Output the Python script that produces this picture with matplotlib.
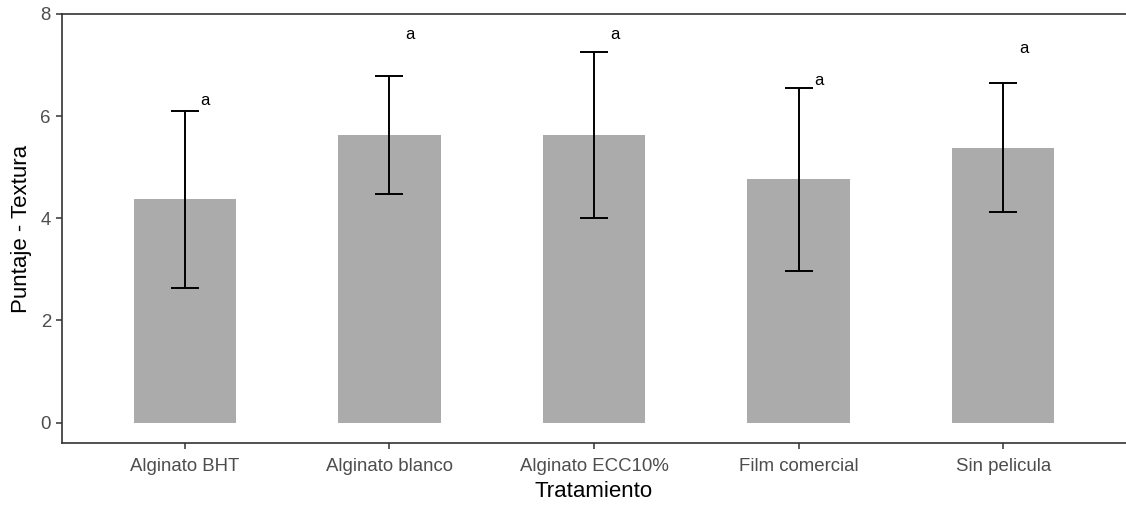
import matplotlib
matplotlib.use("Agg")
import matplotlib.pyplot as plt
import numpy as np

plt.rcParams['font.family'] = ['Liberation Sans', 'DejaVu Sans']

# mean texture score per treatment, with standard deviation
tratamientos = ["Alginato BHT", "Alginato blanco", "Alginato ECC10%", "Film comercial", "Sin pelicula"]
media = [4.37, 5.63, 5.63, 4.76, 5.38]
desv = [1.74, 1.16, 1.62, 1.80, 1.26]
letras = ["a", "a", "a", "a", "a"]
letras_y = [6.31, 7.59, 7.59, 6.69, 7.33]

fig = plt.figure(figsize=(11.26, 5.05), dpi=100)
ax = fig.add_axes([62/1126, 62/505, 1 - 62/1126, (443-14)/505])

x = np.arange(1, len(tratamientos) + 1)
ax.bar(x, media, width=0.5, color="#ABABAB", zorder=1)
ax.errorbar(x, media, yerr=desv, fmt="none", ecolor="black", elinewidth=1.4,
            capsize=10, capthick=1.4, zorder=2)
for xi, l, ly in zip(x, letras, letras_y):
    ax.text(xi + 0.1, ly, l, ha="center", va="center", fontsize=12, color="black")

ax.set_xlim(0.4, 5.6)
ax.set_ylim(-0.4, 8.0)
ax.set_yticks([0, 2, 4, 6, 8])
ax.set_xticks(x)
ax.set_xticklabels(tratamientos)

for s in ["left", "top", "bottom"]:
    ax.spines[s].set_color("#333333")
    ax.spines[s].set_linewidth(1.2)
ax.spines["right"].set_visible(False)
ax.tick_params(axis="both", colors="#333333", labelcolor="#4D4D4D",
               labelsize=13.4, length=4, width=1.1)
ax.tick_params(axis="x", pad=7)
ax.tick_params(axis="y", pad=4)

ax.set_xlabel("Tratamiento", fontsize=16, color="black", labelpad=4)
ax.set_ylabel("Puntaje - Textura", fontsize=16, color="black", labelpad=6)

fig.savefig("out.png", dpi=100)
